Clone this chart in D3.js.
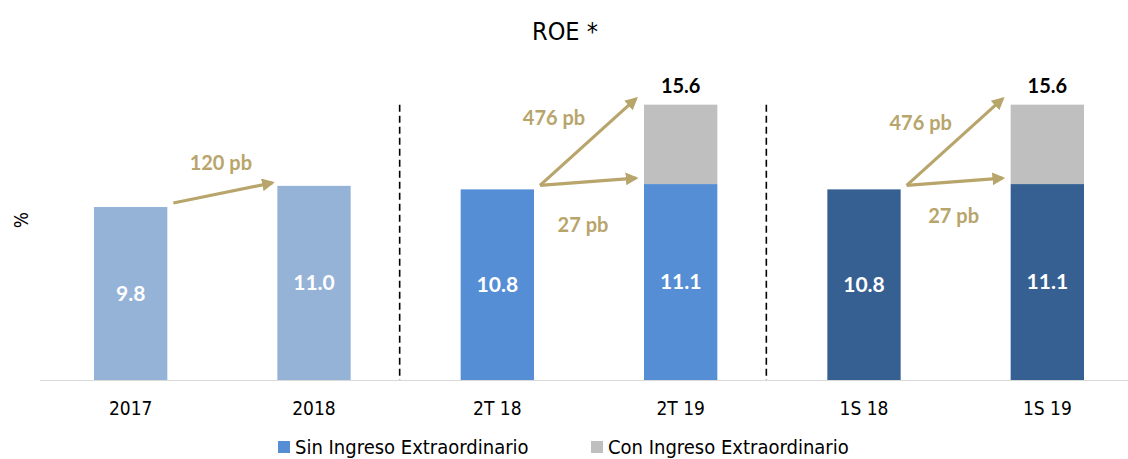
<!DOCTYPE html>
<html>
<head>
<meta charset="utf-8">
<script src="https://cdn.jsdelivr.net/npm/d3@7"></script>
<style>
	body { margin: 0; background: #fff; }
	.narrow { font-family: "Liberation Sans Narrow", "DejaVu Sans Condensed", "Roboto", sans-serif; }
	.bold { font-family: "Lato", "Open Sans", sans-serif; font-weight: 700; }
</style>
</head>
<body>
<div id="svg"></div>
<script>
// Data
const categories = ["2017", "2018", "2T 18", "2T 19", "1S 18", "1S 19"];
const sinIngreso = [9.8, 11.0, 10.8, 11.1, 10.8, 11.1];
const conIngreso = [null, null, null, 15.6, null, 15.6];
const barColors = ["#95b3d7", "#95b3d7", "#558ed5", "#558ed5", "#376092", "#376092"];
// arrows: [from index, to index, target series, label]
const arrows = [
	[0, 1, "sin", "120 pb"],
	[2, 3, "con", "476 pb"],
	[2, 3, "sin", "27 pb"],
	[4, 5, "con", "476 pb"],
	[4, 5, "sin", "27 pb"]
];
const separators = [1, 3]; // after these indexes
const legendItems = ["Sin Ingreso Extraordinario", "Con Ingreso Extraordinario"];
const legendColors = ["#558ed5", "#bfbfbf"];

(function() {
	const width = 1128, height = 459;
	const gold = "#b8a56b";

	const svg = d3.select("#svg")
		.append("svg")
			.attr("width", width)
			.attr("height", height);

	// Scales
	const x = d3.scaleBand()
		.domain(categories)
		.range([39, 1139])
		.paddingInner(0.6)
		.paddingOuter(0.3);

	const y = d3.scaleLinear()
		.domain([0, 20])
		.range([380, 27]);

	const bw = x.bandwidth();

	// Arrow marker
	svg.append("defs").append("marker")
		.attr("id", "head")
		.attr("viewBox", "0 0 10 10")
		.attr("refX", 8)
		.attr("refY", 5)
		.attr("markerWidth", 4)
		.attr("markerHeight", 4)
		.attr("orient", "auto")
		.append("path")
			.attr("d", "M0,0 L10,5 L0,10 z")
			.attr("fill", gold);

	// Title
	svg.append("text")
		.attr("class", "narrow")
		.attr("x", 565)
		.attr("y", 40)
		.attr("text-anchor", "middle")
		.style("font-size", "25px")
		.attr("fill", "#000")
		.text("ROE *");

	// Y label
	svg.append("text")
		.attr("class", "narrow")
		.attr("transform", "translate(28, 220) rotate(-90)")
		.attr("text-anchor", "middle")
		.style("font-size", "19px")
		.text("%");

	// Baseline
	svg.append("line")
		.attr("x1", 40).attr("x2", width)
		.attr("y1", y(0) + 0.5).attr("y2", y(0) + 0.5)
		.attr("stroke", "#d9d9d9")
		.attr("stroke-width", 1);

	// Separators
	svg.selectAll(".sep")
		.data(separators)
		.enter()
		.append("line")
			.attr("class", "sep")
			.attr("x1", i => (x(categories[i]) + bw + x(categories[i + 1])) / 2 - 6)
			.attr("x2", i => (x(categories[i]) + bw + x(categories[i + 1])) / 2 - 6)
			.attr("y1", y(15.6))
			.attr("y2", y(0))
			.attr("stroke", "#000")
			.attr("stroke-width", 1.6)
			.attr("stroke-dasharray", "7,4");

	// Gray (con ingreso) bars
	svg.selectAll(".con")
		.data(categories.map((c, i) => ({c, v: conIngreso[i], base: sinIngreso[i]})).filter(d => d.v != null))
		.enter()
		.append("rect")
			.attr("class", "con")
			.attr("x", d => x(d.c))
			.attr("y", d => y(d.v))
			.attr("width", bw)
			.attr("height", d => y(d.base) - y(d.v))
			.attr("fill", "#bfbfbf");

	// Blue bars
	svg.selectAll(".sin")
		.data(categories)
		.enter()
		.append("rect")
			.attr("class", "sin")
			.attr("x", d => x(d))
			.attr("y", (d, i) => y(sinIngreso[i]))
			.attr("width", bw)
			.attr("height", (d, i) => y(0) - y(sinIngreso[i]))
			.attr("fill", (d, i) => barColors[i]);

	// Value labels
	svg.selectAll(".val")
		.data(categories)
		.enter()
		.append("text")
			.attr("class", "bold")
			.attr("x", d => x(d) + bw / 2)
			.attr("y", (d, i) => (y(0) + y(sinIngreso[i])) / 2)
			.attr("dy", "0.35em")
			.attr("text-anchor", "middle")
			.attr("fill", "#fff")
			.style("font-size", "21px")
			.text((d, i) => sinIngreso[i].toFixed(1));

	svg.selectAll(".tot")
		.data(categories.map((c, i) => ({c, v: conIngreso[i]})).filter(d => d.v != null))
		.enter()
		.append("text")
			.attr("class", "bold")
			.attr("x", d => x(d.c) + bw / 2)
			.attr("y", d => y(d.v) - 19)
			.attr("dy", "0.35em")
			.attr("text-anchor", "middle")
			.attr("fill", "#000")
			.style("font-size", "20px")
			.text(d => d.v.toFixed(1));

	// Arrows
	arrows.forEach(([a, b, s, label]) => {
		const target = s === "con" ? conIngreso[b] : sinIngreso[b];
		const x1 = x(categories[a]) + bw + 6,
					y1 = y(sinIngreso[a]) - 4,
					x2 = x(categories[b]) - (a === 0 ? 5 : 8),
					y2 = y(target) - (a === 0 ? 3 : 6);
		svg.append("line")
			.attr("x1", x1).attr("y1", y1)
			.attr("x2", x2).attr("y2", y2)
			.attr("stroke", gold)
			.attr("stroke-width", 3.2)
			.attr("marker-end", "url(#head)");

		let lx, ly;
		if (a === 0) {
			lx = (x1 + x2) / 2 - 2; ly = (y1 + y2) / 2 - 30;
		} else if (s === "con") {
			lx = (x1 + x2) / 2 - 34; ly = (y1 + y2) / 2 - 24 + (a === 4 ? 5 : 0);
		} else {
			lx = (x1 + x2) / 2 - 5 + (a === 4 ? 4 : 0); ly = (y1 + y2) / 2 + 43 - (a === 4 ? 9 : 0);
		}
		svg.append("text")
			.attr("class", "bold")
			.attr("x", lx)
			.attr("y", ly)
			.attr("dy", "0.35em")
			.attr("text-anchor", "middle")
			.attr("fill", gold)
			.style("font-size", "20px")
			.text(label);
	});

	// Category labels
	svg.selectAll(".cat")
		.data(categories)
		.enter()
		.append("text")
			.attr("class", "narrow")
			.attr("x", d => x(d) + bw / 2)
			.attr("y", 408)
			.attr("dy", "0.35em")
			.attr("text-anchor", "middle")
			.attr("fill", "#000")
			.style("font-size", "19px")
			.text(d => d);

	// Legend
	const legX = [278, 591];
	const leg = svg.selectAll(".leg")
		.data(legendItems)
		.enter()
		.append("g")
			.attr("transform", (d, i) => `translate(${legX[i]}, 441)`);

	leg.append("rect")
		.attr("width", 12)
		.attr("height", 12)
		.attr("fill", (d, i) => legendColors[i]);

	leg.append("text")
		.attr("class", "narrow")
		.attr("x", 17)
		.attr("y", 6)
		.attr("dy", "0.35em")
		.style("font-size", "20px")
		.attr("fill", "#000")
		.text(d => d);
})();
</script>
</body>
</html>
